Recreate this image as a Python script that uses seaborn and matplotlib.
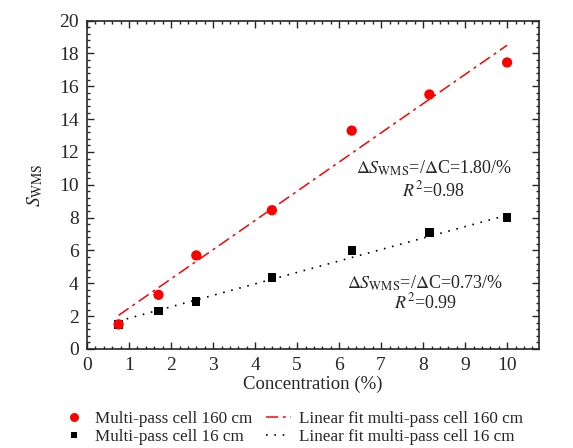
import numpy as np
import pandas as pd
import seaborn as sns
import matplotlib.pyplot as plt
from matplotlib.ticker import MultipleLocator
from matplotlib.lines import Line2D

sns.set_style('ticks')
plt.rcParams['font.family'] = ['Liberation Serif', 'DejaVu Serif']
plt.rcParams['mathtext.fontset'] = 'stix'

# values
conc = [0.75, 1.7, 2.6, 4.4, 6.3, 8.15, 10.0]
s_160 = [1.5, 3.3, 5.7, 8.45, 13.3, 15.5, 17.45]
s_16 = [1.5, 2.3, 2.9, 4.35, 6.0, 7.1, 8.0]

# fit line end points
fit_x = [0.75, 10.0]
fit_160 = [2.05, 18.5]
fit_16 = [1.7, 8.15]

pts = pd.DataFrame({'conc': conc, 's160': s_160, 's16': s_16})
fits = pd.DataFrame({'conc': fit_x, 'f160': fit_160, 'f16': fit_16})

fig = plt.figure(figsize=(5.73, 4.48), dpi=100)
ax = fig.add_axes([0.152, 0.221, 0.788, 0.733])

sns.lineplot(data=fits, x='conc', y='f160', ax=ax, color='red', lw=1.1,
             linestyle=(0, (8, 3, 2, 3)))
sns.lineplot(data=fits, x='conc', y='f16', ax=ax, color='black', lw=1.2,
             linestyle=(0, (1, 4)))
sns.scatterplot(data=pts, x='conc', y='s16', ax=ax, color='black', marker='s',
                s=36, edgecolor='none', zorder=3)
sns.scatterplot(data=pts, x='conc', y='s160', ax=ax, color='red', marker='o',
                s=55, edgecolor='none', zorder=4)

ax.set_xlim(0, 10.75)
ax.set_ylim(0, 20)
ax.xaxis.set_major_locator(MultipleLocator(1))
ax.xaxis.set_minor_locator(MultipleLocator(0.2))
ax.yaxis.set_major_locator(MultipleLocator(2))
ax.yaxis.set_minor_locator(MultipleLocator(0.4))
ax.tick_params(which='both', direction='in', top=True, right=True, labelsize=14, width=1)
ax.tick_params(which='major', length=5, pad=6)
ax.tick_params(which='minor', length=2.5)
for sp in ax.spines.values():
    sp.set_linewidth(1.2)

ax.set_xlabel('Concentration (%)', fontsize=13.5, labelpad=1)
ax.set_ylabel(r'$S_{\mathrm{WMS}}$', fontsize=14, labelpad=10)

ax.text(8.25, 11.0, r'$\Delta S_{\mathrm{WMS}}$=/$\Delta$C=1.80/%', ha='center', va='center', fontsize=13)
ax.text(8.25, 9.65, r'$R^2$=0.98', ha='center', va='center', fontsize=13)
ax.text(8.05, 4.0, r'$\Delta S_{\mathrm{WMS}}$=/$\Delta$C=0.73/%', ha='center', va='center', fontsize=13)
ax.text(8.05, 2.85, r'$R^2$=0.99', ha='center', va='center', fontsize=13)

handles = [
    Line2D([], [], color='red', marker='o', ls='none', markersize=6.5, markeredgewidth=0),
    Line2D([], [], color='black', marker='s', ls='none', markersize=5, markeredgewidth=0),
    Line2D([], [], color='red', lw=1.1, ls=(0, (8, 3, 2, 3))),
    Line2D([], [], color='black', lw=1.2, ls=(0, (1, 4))),
]
labels = ['Multi-pass cell 160 cm', 'Multi-pass cell 16 cm',
          'Linear fit multi-pass cell 160 cm', 'Linear fit multi-pass cell 16 cm']
fig.legend(handles, labels, ncol=2, loc='center', bbox_to_anchor=(0.51, 0.044),
           frameon=False, fontsize=12.3, handlelength=1.5, handletextpad=0.45,
           columnspacing=0.8, labelspacing=0.1, borderaxespad=0)

fig.savefig('out.png', dpi=100)
